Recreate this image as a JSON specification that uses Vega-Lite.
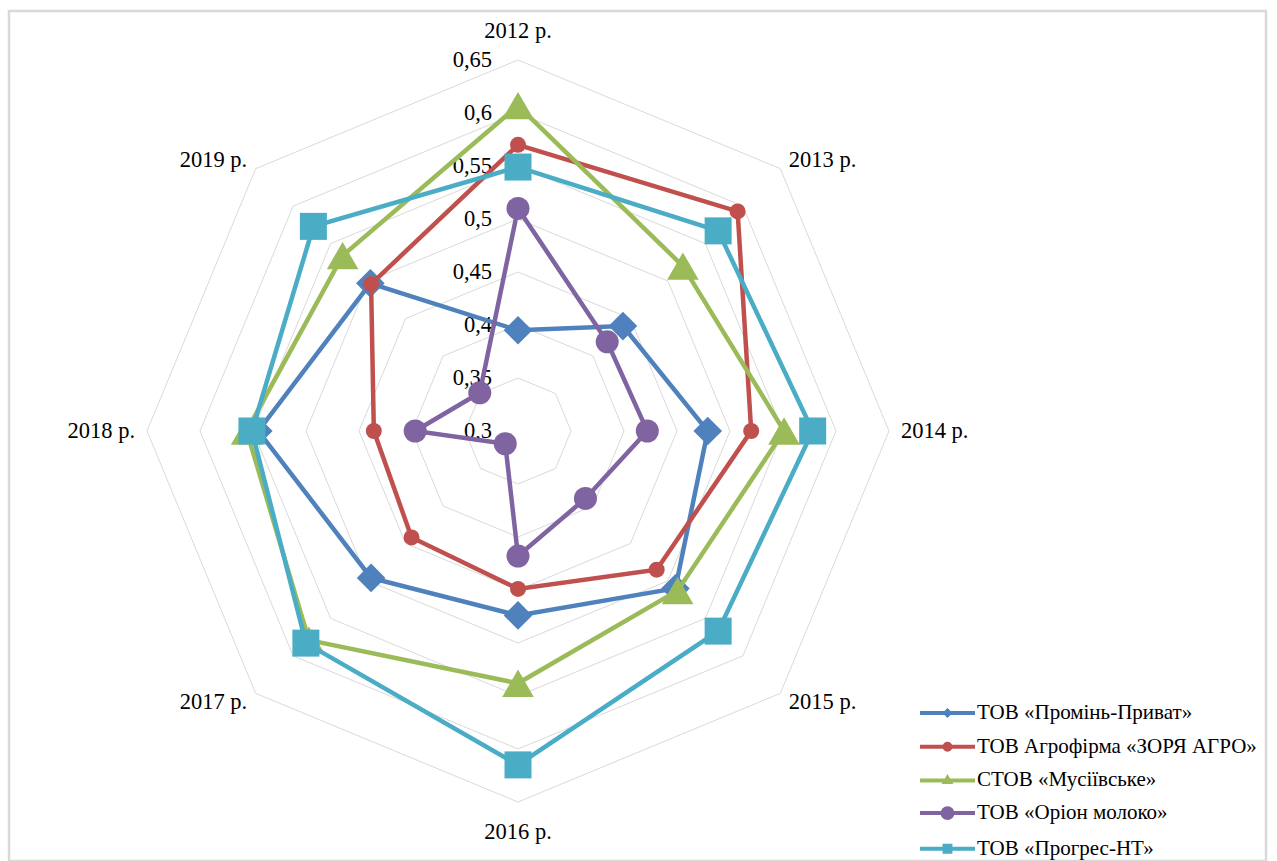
{
  "$schema": "https://vega.github.io/schema/vega-lite/v6.json",
  "autosize": "none",
  "padding": {"left": 9, "top": 11, "right": 11, "bottom": 0},
  "width": 1257,
  "height": 850,
  "background": "white",
  "config": {
    "view": {"stroke": "#D9D9D9", "strokeWidth": 2.5},
    "axis": {"disable": true},
    "font": "Liberation Serif",
    "text": {"font": "Liberation Serif"},
    "legend": {"labelFont": "Liberation Serif", "labelFontSize": 21, "labelColor": "#000000"}
  },
  "datasets": {
    "main": [
      {"company": "ТОВ «Промінь-Приват»", "year": 2012, "value": 0.395},
      {"company": "ТОВ «Промінь-Приват»", "year": 2013, "value": 0.440},
      {"company": "ТОВ «Промінь-Приват»", "year": 2014, "value": 0.479},
      {"company": "ТОВ «Промінь-Приват»", "year": 2015, "value": 0.510},
      {"company": "ТОВ «Промінь-Приват»", "year": 2016, "value": 0.474},
      {"company": "ТОВ «Промінь-Приват»", "year": 2017, "value": 0.496},
      {"company": "ТОВ «Промінь-Приват»", "year": 2018, "value": 0.545},
      {"company": "ТОВ «Промінь-Приват»", "year": 2019, "value": 0.497},
      {"company": "ТОВ Агрофірма «ЗОРЯ АГРО»", "year": 2012, "value": 0.570},
      {"company": "ТОВ Агрофірма «ЗОРЯ АГРО»", "year": 2013, "value": 0.593},
      {"company": "ТОВ Агрофірма «ЗОРЯ АГРО»", "year": 2014, "value": 0.520},
      {"company": "ТОВ Агрофірма «ЗОРЯ АГРО»", "year": 2015, "value": 0.485},
      {"company": "ТОВ Агрофірма «ЗОРЯ АГРО»", "year": 2016, "value": 0.449},
      {"company": "ТОВ Агрофірма «ЗОРЯ АГРО»", "year": 2017, "value": 0.442},
      {"company": "ТОВ Агрофірма «ЗОРЯ АГРО»", "year": 2018, "value": 0.436},
      {"company": "ТОВ Агрофірма «ЗОРЯ АГРО»", "year": 2019, "value": 0.496},
      {"company": "СТОВ «Мусіївське»", "year": 2012, "value": 0.607},
      {"company": "СТОВ «Мусіївське»", "year": 2013, "value": 0.520},
      {"company": "СТОВ «Мусіївське»", "year": 2014, "value": 0.551},
      {"company": "СТОВ «Мусіївське»", "year": 2015, "value": 0.513},
      {"company": "СТОВ «Мусіївське»", "year": 2016, "value": 0.538},
      {"company": "СТОВ «Мусіївське»", "year": 2017, "value": 0.579},
      {"company": "СТОВ «Мусіївське»", "year": 2018, "value": 0.556},
      {"company": "СТОВ «Мусіївське»", "year": 2019, "value": 0.534},
      {"company": "ТОВ «Оріон молоко»", "year": 2012, "value": 0.510},
      {"company": "ТОВ «Оріон молоко»", "year": 2013, "value": 0.419},
      {"company": "ТОВ «Оріон молоко»", "year": 2014, "value": 0.422},
      {"company": "ТОВ «Оріон молоко»", "year": 2015, "value": 0.390},
      {"company": "ТОВ «Оріон молоко»", "year": 2016, "value": 0.418},
      {"company": "ТОВ «Оріон молоко»", "year": 2017, "value": 0.317},
      {"company": "ТОВ «Оріон молоко»", "year": 2018, "value": 0.397},
      {"company": "ТОВ «Оріон молоко»", "year": 2019, "value": 0.351},
      {"company": "ТОВ «Прогрес-НТ»", "year": 2012, "value": 0.549},
      {"company": "ТОВ «Прогрес-НТ»", "year": 2013, "value": 0.567},
      {"company": "ТОВ «Прогрес-НТ»", "year": 2014, "value": 0.578},
      {"company": "ТОВ «Прогрес-НТ»", "year": 2015, "value": 0.567},
      {"company": "ТОВ «Прогрес-НТ»", "year": 2016, "value": 0.615},
      {"company": "ТОВ «Прогрес-НТ»", "year": 2017, "value": 0.583},
      {"company": "ТОВ «Прогрес-НТ»", "year": 2018, "value": 0.551},
      {"company": "ТОВ «Прогрес-НТ»", "year": 2019, "value": 0.573}
    ],
    "grid": [
      {"level": 0.35, "year": [2012, 2013, 2014, 2015, 2016, 2017, 2018, 2019]},
      {"level": 0.40, "year": [2012, 2013, 2014, 2015, 2016, 2017, 2018, 2019]},
      {"level": 0.45, "year": [2012, 2013, 2014, 2015, 2016, 2017, 2018, 2019]},
      {"level": 0.50, "year": [2012, 2013, 2014, 2015, 2016, 2017, 2018, 2019]},
      {"level": 0.55, "year": [2012, 2013, 2014, 2015, 2016, 2017, 2018, 2019]},
      {"level": 0.60, "year": [2012, 2013, 2014, 2015, 2016, 2017, 2018, 2019]},
      {"level": 0.65, "year": [2012, 2013, 2014, 2015, 2016, 2017, 2018, 2019]}
    ],
    "ticks": [
      {"level": 0.30}, {"level": 0.35}, {"level": 0.40}, {"level": 0.45},
      {"level": 0.50}, {"level": 0.55}, {"level": 0.60}, {"level": 0.65}
    ],
    "years": [
      {"year": 2012}, {"year": 2013}, {"year": 2014}, {"year": 2015},
      {"year": 2016}, {"year": 2017}, {"year": 2018}, {"year": 2019}
    ]
  },
  "layer": [
    {
      "data": {"name": "grid"},
      "transform": [
        {"flatten": ["year"]},
        {"calculate": "(datum.year-2012)*PI/4", "as": "a"},
        {"calculate": "(datum.level-0.3)*sin(datum.a)", "as": "gx"},
        {"calculate": "(datum.level-0.3)*cos(datum.a)", "as": "gy"}
      ],
      "mark": {"type": "line", "interpolate": "linear-closed", "stroke": "#D9D9D9", "strokeWidth": 1},
      "encoding": {
        "x": {"field": "gx", "type": "quantitative", "scale": {"domain": [-0.480189, 0.70566], "nice": false, "zero": false}},
        "y": {"field": "gy", "type": "quantitative", "scale": {"domain": [-0.40566, 0.396226], "nice": false, "zero": false}},
        "detail": {"field": "level"},
        "order": {"field": "year"}
      }
    },
    {
      "data": {"name": "ticks"},
      "transform": [
        {"calculate": "datum.level-0.3", "as": "ty"},
        {"calculate": "replace(format(datum.level, '.2~f'), '.', ',')", "as": "lab"}
      ],
      "mark": {"type": "text", "align": "right", "baseline": "middle", "dx": -26, "fontSize": 22.5, "font": "Liberation Serif", "color": "#000000"},
      "encoding": {
        "x": {"datum": 0, "type": "quantitative"},
        "y": {"field": "ty", "type": "quantitative"},
        "text": {"field": "lab"}
      }
    },
    {
      "data": {"name": "years"},
      "transform": [
        {"calculate": "(datum.year-2012)*PI/4", "as": "a"},
        {"calculate": "0.3613*sin(datum.a)", "as": "lx"},
        {"calculate": "0.3613*cos(datum.a)", "as": "ly"},
        {"calculate": "datum.year + ' р.'", "as": "lab"}
      ],
      "encoding": {
        "x": {"field": "lx", "type": "quantitative"},
        "y": {"field": "ly", "type": "quantitative"},
        "text": {"field": "lab"}
      },
      "layer": [
        {
          "transform": [{"filter": "datum.year == 2012"}],
          "mark": {"type": "text", "align": "center", "baseline": "middle", "dy": -17, "fontSize": 22.5, "font": "Liberation Serif", "color": "#000000"}
        },
        {
          "transform": [{"filter": "datum.year == 2016"}],
          "mark": {"type": "text", "align": "center", "baseline": "middle", "dy": 18, "fontSize": 22.5, "font": "Liberation Serif", "color": "#000000"}
        },
        {
          "transform": [{"filter": "datum.year >= 2013 && datum.year <= 2015"}],
          "mark": {"type": "text", "align": "left", "baseline": "middle", "fontSize": 22.5, "font": "Liberation Serif", "color": "#000000"}
        },
        {
          "transform": [{"filter": "datum.year >= 2017"}],
          "mark": {"type": "text", "align": "right", "baseline": "middle", "fontSize": 22.5, "font": "Liberation Serif", "color": "#000000"}
        }
      ]
    },
    {
      "data": {"name": "main"},
      "transform": [
        {"calculate": "(datum.year-2012)*PI/4", "as": "a"},
        {"calculate": "(datum.value-0.3)*sin(datum.a)", "as": "px"},
        {"calculate": "(datum.value-0.3)*cos(datum.a)", "as": "py"}
      ],
      "layer": [
        {
          "transform": [{"filter": {"field": "company", "equal": "ТОВ «Промінь-Приват»"}}],
          "encoding": {
            "x": {"field": "px", "type": "quantitative"},
            "y": {"field": "py", "type": "quantitative"},
            "order": {"field": "year"}
          },
          "layer": [
            {"mark": {"type": "line", "interpolate": "linear-closed", "color": "#4F81BD", "strokeWidth": 4.5}},
            {"mark": {"type": "point", "shape": "diamond", "filled": true, "opacity": 1, "size": 820, "color": "#4F81BD"}}
          ]
        },
        {
          "transform": [{"filter": {"field": "company", "equal": "ТОВ Агрофірма «ЗОРЯ АГРО»"}}],
          "encoding": {
            "x": {"field": "px", "type": "quantitative"},
            "y": {"field": "py", "type": "quantitative"},
            "order": {"field": "year"}
          },
          "layer": [
            {"mark": {"type": "line", "interpolate": "linear-closed", "color": "#C0504D", "strokeWidth": 4.5}},
            {"mark": {"type": "point", "shape": "circle", "filled": true, "opacity": 1, "size": 256, "color": "#C0504D"}}
          ]
        },
        {
          "transform": [{"filter": {"field": "company", "equal": "СТОВ «Мусіївське»"}}],
          "encoding": {
            "x": {"field": "px", "type": "quantitative"},
            "y": {"field": "py", "type": "quantitative"},
            "order": {"field": "year"}
          },
          "layer": [
            {"mark": {"type": "line", "interpolate": "linear-closed", "color": "#9BBB59", "strokeWidth": 4.5}},
            {"mark": {"type": "point", "shape": "triangle-up", "filled": true, "opacity": 1, "size": 1000, "color": "#9BBB59"}}
          ]
        },
        {
          "transform": [{"filter": {"field": "company", "equal": "ТОВ «Оріон молоко»"}}],
          "encoding": {
            "x": {"field": "px", "type": "quantitative"},
            "y": {"field": "py", "type": "quantitative"},
            "order": {"field": "year"}
          },
          "layer": [
            {"mark": {"type": "line", "interpolate": "linear-closed", "color": "#8064A2", "strokeWidth": 4.5}},
            {"mark": {"type": "point", "shape": "circle", "filled": true, "opacity": 1, "size": 530, "color": "#8064A2"}}
          ]
        },
        {
          "transform": [{"filter": {"field": "company", "equal": "ТОВ «Прогрес-НТ»"}}],
          "encoding": {
            "x": {"field": "px", "type": "quantitative"},
            "y": {"field": "py", "type": "quantitative"},
            "order": {"field": "year"}
          },
          "layer": [
            {"mark": {"type": "line", "interpolate": "linear-closed", "color": "#4BACC6", "strokeWidth": 4.5}},
            {"mark": {"type": "point", "shape": "square", "filled": true, "opacity": 1, "size": 729, "color": "#4BACC6"}}
          ]
        },
        {
          "transform": [{"filter": "false"}],
          "mark": {"type": "point", "filled": false, "strokeWidth": 4, "opacity": 1},
          "encoding": {
            "color": {
              "field": "company", "type": "nominal",
              "scale": {
                "domain": ["ТОВ «Промінь-Приват»", "ТОВ Агрофірма «ЗОРЯ АГРО»", "СТОВ «Мусіївське»", "ТОВ «Оріон молоко»", "ТОВ «Прогрес-НТ»"],
                "range": ["#4F81BD", "#C0504D", "#9BBB59", "#8064A2", "#4BACC6"]
              },
              "legend": {"title": null, "orient": "none", "legendX": 925.5, "legendY": 689, "padding": 0, "symbolSize": 484, "symbolStrokeWidth": 4, "labelOffset": 16.5, "labelFontSize": 21, "labelFont": "Liberation Serif", "labelColor": "#000000", "rowPadding": 9.7, "labelLimit": 400}
            },
            "shape": {
              "field": "company", "type": "nominal",
              "scale": {
                "domain": ["ТОВ «Промінь-Приват»", "ТОВ Агрофірма «ЗОРЯ АГРО»", "СТОВ «Мусіївське»", "ТОВ «Оріон молоко»", "ТОВ «Прогрес-НТ»"],
                "range": [
                  "M-2.5,0H2.5M-0.2,0L0,-0.2L0.2,0L0,0.2Z",
                  "M-2.5,0H2.5M0.27,0A0.27,0.27,0,1,1,-0.27,0A0.27,0.27,0,1,1,0.27,0ZM0.09,0A0.09,0.09,0,1,1,-0.09,0A0.09,0.09,0,1,1,0.09,0Z",
                  "M-2.5,0H2.5M0,-0.22L0.22,0.15L-0.22,0.15Z",
                  "M-2.5,0H2.5M0.45,0A0.45,0.45,0,1,1,-0.45,0A0.45,0.45,0,1,1,0.45,0ZM0.22,0A0.22,0.22,0,1,1,-0.22,0A0.22,0.22,0,1,1,0.22,0ZM0.05,0A0.05,0.05,0,1,1,-0.05,0A0.05,0.05,0,1,1,0.05,0Z",
                  "M-2.5,0H2.5M-0.27,-0.27H0.27V0.27H-0.27ZM-0.09,-0.09H0.09V0.09H-0.09Z"
                ]
              },
              "legend": {"title": null, "orient": "none", "legendX": 925.5, "legendY": 689, "padding": 0, "symbolSize": 484, "symbolStrokeWidth": 4, "labelOffset": 16.5, "labelFontSize": 21, "labelFont": "Liberation Serif", "labelColor": "#000000", "rowPadding": 9.7, "labelLimit": 400}
            }
          }
        }
      ]
    }
  ]
}
